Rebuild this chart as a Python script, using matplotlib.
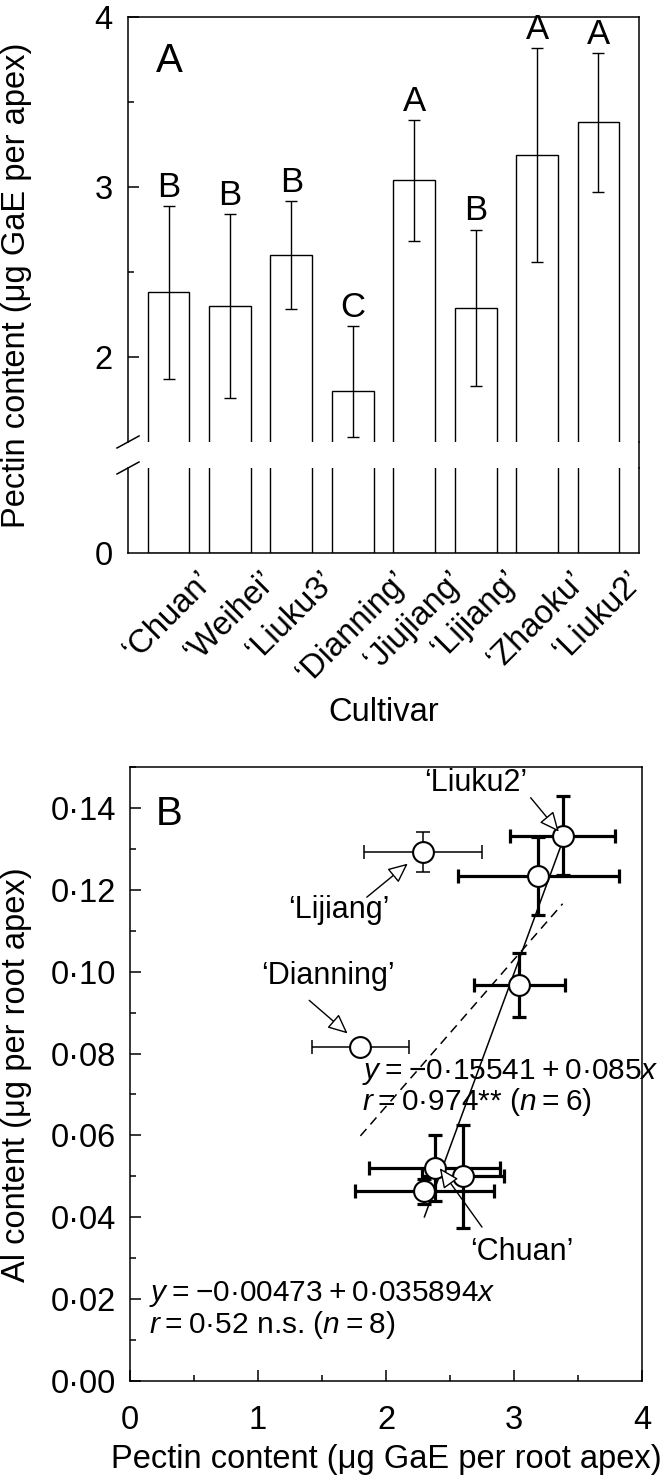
import matplotlib
matplotlib.use('Agg')
import matplotlib.pyplot as plt
from matplotlib.lines import Line2D
from matplotlib.ticker import MultipleLocator, FixedLocator, FuncFormatter

plt.rcParams['font.family'] = ['Liberation Sans', 'DejaVu Sans']
plt.rcParams['mathtext.fontset'] = 'custom'
plt.rcParams['mathtext.rm'] = 'Liberation Sans'
plt.rcParams['mathtext.it'] = 'Liberation Sans:italic'

# data
cultivars = ['Chuan', 'Weihei', 'Liuku3', 'Dianning', 'Jiujiang', 'Lijiang', 'Zhaoku', 'Liuku2']
pectin = [2.38, 2.30, 2.60, 1.80, 3.04, 2.29, 3.19, 3.38]
pectin_err = [0.51, 0.54, 0.32, 0.38, 0.355, 0.46, 0.63, 0.41]
groups = ['B', 'B', 'B', 'C', 'A', 'B', 'A', 'A']
al = [0.0520, 0.0463, 0.0500, 0.0817, 0.0968, 0.1293, 0.1234, 0.1332]
al_err = [0.0080, 0.0030, 0.0125, 0.0010, 0.0078, 0.0049, 0.0095, 0.0097]
outliers = ['Dianning', 'Lijiang']          # left out of the n=6 fit
fit_all = (-0.00473, 0.035894)              # n=8
fit_six = (-0.15541, 0.085)                 # n=6

W, H = 667, 1479
fig = plt.figure(figsize=(W / 100, H / 100), dpi=100)

def px(x0, y0, x1, y1):
    # pixel box -> figure fraction [left, bottom, width, height]
    return [x0 / W, 1 - y1 / H, (x1 - x0) / W, (y1 - y0) / H]

lw_sp = 1.1
fs = 23.5
ts = '\u2009'  # thin space

# ---------------- panel A (broken axis) ----------------
ax_up = fig.add_axes(px(128, 17, 639, 442))
ax_lo = fig.add_axes(px(128, 468, 639, 553))
xpos = list(range(len(cultivars)))
y_break = 1.5

for ax in (ax_up, ax_lo):
    ax.bar(xpos, pectin, width=0.68, color='white', edgecolor='black', linewidth=1.0)
    ax.set_xlim(-0.66, 7.66)
    for s in ax.spines.values():
        s.set_linewidth(lw_sp)
# lower whiskers stop at the axis break (as in the original)
err_lo = [min(e, v - y_break - 0.03) for v, e in zip(pectin, pectin_err)]
ax_up.errorbar(xpos, pectin, yerr=[err_lo, pectin_err], fmt='none', ecolor='black',
               elinewidth=1.0, capsize=4.5, capthick=1.0)
for i, g in enumerate(groups):
    ax_up.annotate(g, (i, pectin[i] + pectin_err[i]), xytext=(0, 1.5),
                   textcoords='offset points', ha='center', va='bottom', fontsize=25)

ax_up.set_ylim(y_break, 4)
ax_up.yaxis.set_major_locator(FixedLocator([2, 3, 4]))
ax_up.yaxis.set_minor_locator(FixedLocator([2.5, 3.5]))
ax_up.spines['bottom'].set_visible(False)
ax_up.tick_params(axis='x', bottom=False, labelbottom=False)
ax_up.tick_params(axis='y', which='major', direction='in', length=8, width=lw_sp, labelsize=fs, pad=11)
ax_up.tick_params(axis='y', which='minor', direction='in', length=4.5, width=lw_sp)
ax_up.text(0.055, 0.87, 'A', transform=ax_up.transAxes, fontsize=29, va='baseline')

ax_lo.set_ylim(0, 0.5)
ax_lo.set_yticks([0])
ax_lo.spines['top'].set_visible(False)
ax_lo.tick_params(axis='y', direction='in', length=0, labelsize=fs, pad=11)
ax_lo.set_xticks(xpos)
ax_lo.set_xticklabels(['\u2018%s\u2019' % c for c in cultivars], rotation=45, fontsize=fs)
ax_lo.tick_params(axis='x', length=0, pad=9)
ax_lo.set_xlabel('Cultivar', fontsize=fs, labelpad=6)

# break marks on the left spine, continuous right spine
for ax, yb, hpx in ((ax_up, 0, 425), (ax_lo, 1, 85)):
    dx, dy = 11 / 511, 6 / hpx
    ax.plot([-dx, dx], [yb - dy, yb + dy], transform=ax.transAxes,
            color='black', lw=lw_sp, clip_on=False)
fig.add_artist(Line2D([639 / W, 639 / W], [1 - 442 / H, 1 - 468 / H],
                      color='black', lw=lw_sp))
fig.text(17 / W, 1 - 285 / H, 'Pectin content (\u03bcg GaE per apex)', rotation=90,
         ha='center', va='center', fontsize=fs)

# ---------------- panel B ----------------
axb = fig.add_axes(px(130, 767, 642, 1381))
for i, c in enumerate(cultivars):
    lw = 1.1 if c in outliers else 2.3
    axb.errorbar(pectin[i], al[i], xerr=pectin_err[i], yerr=al_err[i], fmt='none',
                 ecolor='black', elinewidth=lw, capsize=5, capthick=lw, zorder=2)

six = [i for i, c in enumerate(cultivars) if c not in outliers]
xa = [min(pectin), max(pectin)]
axb.plot(xa, [fit_all[0] + fit_all[1] * v for v in xa], color='black', lw=1.1,
         dashes=(6, 4), zorder=3)
xs = [min(pectin[i] for i in six), max(pectin[i] for i in six)]
axb.plot(xs, [fit_six[0] + fit_six[1] * v for v in xs], color='black', lw=1.1, zorder=3)
axb.plot(pectin, al, 'o', ms=15, mfc='white', mec='black', mew=1.5, zorder=4)

arrow = dict(arrowstyle='-|>,head_length=0.55,head_width=0.25', mutation_scale=22,
             fc='white', ec='black', lw=1.0, shrinkA=0, shrinkB=0)
labels_b = [('Liuku2', (2.70, 0.1460), (3.13, 0.1425), (3.35, 0.1342)),
            ('Lijiang', (1.63, 0.1150), (1.85, 0.1182), (2.17, 0.1264)),
            ('Dianning', (1.55, 0.0990), (1.40, 0.0930), (1.70, 0.0849)),
            ('Chuan', (3.06, 0.0315), (2.75, 0.0376), (2.42, 0.0520))]
for name, txt, tail, tip in labels_b:
    axb.text(txt[0], txt[1], '\u2018%s\u2019' % name, ha='center', va='center', fontsize=22)
    axb.annotate('', xy=tip, xytext=tail, arrowprops=arrow, zorder=5)

def fit_text(b0, b1, r, note, n):
    eq = '$y$' + ts + '=' + ts + '\u2212' + ('%g' % abs(b0)).replace('.', '\u00b7') \
         + ts + '+' + ts + ('%g' % b1).replace('.', '\u00b7') + '$x$'
    rr = '$r$' + ts + '=' + ts + r + note + ' ($n$' + ts + '=' + ts + '%d)' % n
    return eq + '\n' + rr

eq_fs = 21.5
# anchored at the baseline of the second line
axb.text(1.816, 0.0663, fit_text(*fit_six, '0\u00b7974', '**', len(six)),
         fontsize=eq_fs, va='baseline', linespacing=0.95)
axb.text(0.15, 0.0117, fit_text(*fit_all, '0\u00b752', ' n.s.', len(cultivars)),
         fontsize=eq_fs, va='baseline', linespacing=1.0)
axb.text(0.051, 0.905, 'B', transform=axb.transAxes, fontsize=29, va='baseline')

axb.set_xlim(0, 4)
axb.set_ylim(0, 0.15)
axb.xaxis.set_major_locator(MultipleLocator(1))
axb.xaxis.set_minor_locator(MultipleLocator(0.5))
axb.yaxis.set_major_locator(MultipleLocator(0.02))
axb.yaxis.set_minor_locator(MultipleLocator(0.01))
axb.xaxis.set_major_formatter(FuncFormatter(lambda v, p: '%d' % round(v)))
axb.yaxis.set_major_formatter(FuncFormatter(lambda v, p: ('%.2f' % v).replace('.', '\u00b7')))
axb.tick_params(which='major', direction='in', length=8, width=lw_sp, labelsize=fs)
axb.tick_params(which='minor', direction='in', length=4.5, width=lw_sp)
axb.tick_params(axis='x', pad=17)
axb.tick_params(axis='y', pad=10)
for s in axb.spines.values():
    s.set_linewidth(lw_sp)
axb.set_xlabel('Pectin content (\u03bcg GaE per root apex)', fontsize=fs, labelpad=6)
fig.text(17 / W, 1 - 1075 / H, 'Al content (\u03bcg per root apex)', rotation=90,
         ha='center', va='center', fontsize=fs)

fig.savefig('out.png', dpi=100)
